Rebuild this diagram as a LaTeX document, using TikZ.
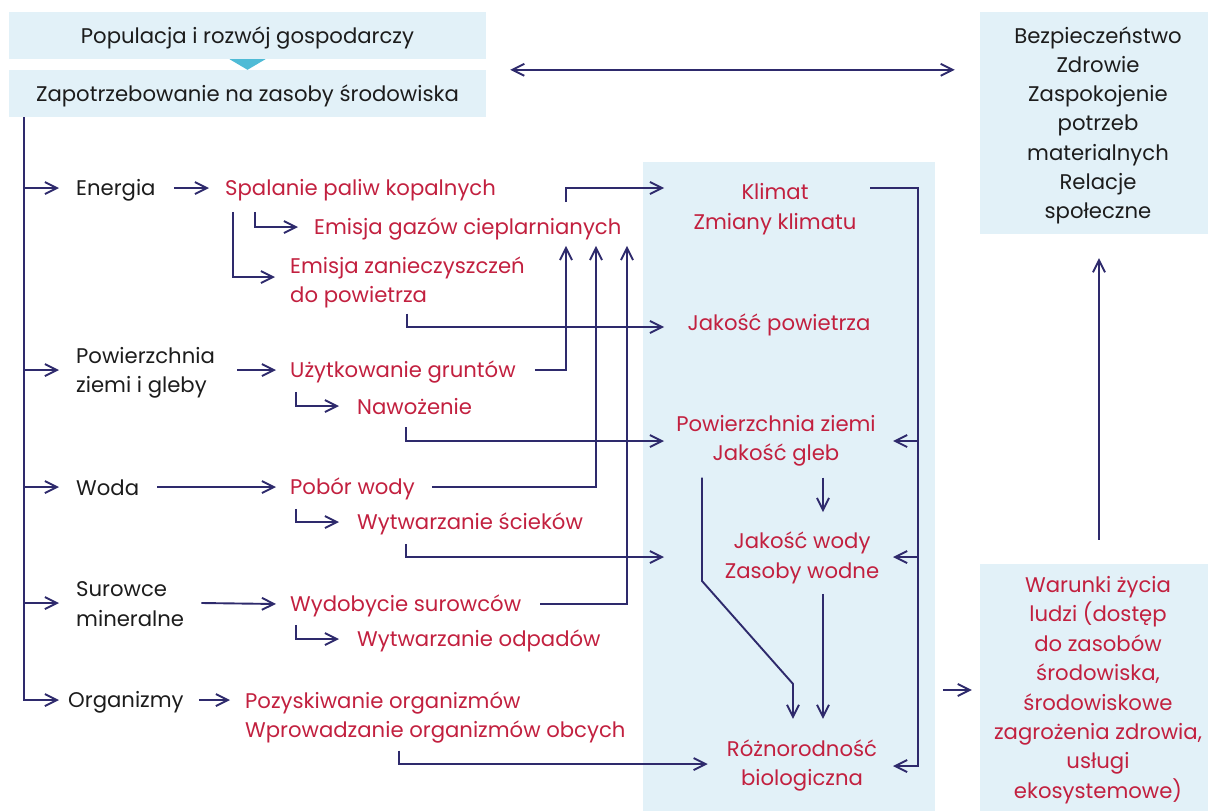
\documentclass[tikz,border=0pt]{standalone}
\usepackage{fontspec}
\setmainfont{Poppins}
\usetikzlibrary{arrows.meta,calc}
\definecolor{panel}{HTML}{E2F1F8}
\definecolor{tri}{HTML}{4FBBD6}
\definecolor{navy}{HTML}{2E2A6C}
\definecolor{redt}{HTML}{C2203F}
\definecolor{blk}{HTML}{1C1C1C}
\newcommand{\sT}{\rule[-0.2em]{0pt}{1.2em}}
\begin{document}
\begin{tikzpicture}[x=1pt,y=-1pt,
  base/.style={font=\fontsize{21.2}{29.3}\selectfont, inner sep=0pt},
  blacktxt/.style={base, text=blk},
  redtxt/.style={base, text=redt},
  boxnode/.style={base, text=blk, fill=panel, align=center},
  line/.style={draw=navy, line width=1.9pt},
  conn/.style={line, -{Straight Barb[length=12pt,width=12pt]}},
  both/.style={line, {Straight Barb[length=12pt,width=12pt]}-{Straight Barb[length=12pt,width=12pt]}}]
\useasboundingbox (0,0) rectangle (1208,811);
\fill[panel] (643,162) rectangle (935,811);

\node[boxnode, minimum width=477pt, minimum height=47pt] (pop) at (247.5,35.5) {\sT Populacja i rozwój gospodarczy};
\node[boxnode, minimum width=477pt, minimum height=47pt] (zap) at (247.5,93.5) {\sT Zapotrzebowanie na zasoby środowiska};
\fill[tri] ($(pop.south)+(-18,0)$) -- ($(pop.south)+(18,0)$) -- (zap.north) -- cycle;

\node[boxnode, minimum width=236pt, minimum height=222pt, font=\fontsize{21.2}{29.2}\selectfont] (bez) at (1098,123) {\sT Bezpieczeństwo\\\sT Zdrowie\\\sT Zaspokojenie\\\sT potrzeb\\\sT materialnych\\\sT Relacje\\\sT społeczne};
\node[boxnode, text=redt, minimum width=236pt, minimum height=247pt, font=\fontsize{21.2}{29.4}\selectfont] (war) at (1098,687.5) {\sT Warunki życia\\\sT ludzi (dostęp\\\sT do zasobów\\\sT środowiska,\\\sT środowiskowe\\\sT zagrożenia zdrowia,\\\sT usługi\\\sT ekosystemowe)};

\node[blacktxt, anchor=west] (en) at (76,188) {\sT Energia};
\node[blacktxt, anchor=west, align=left] (pzg) at (76,370) {\sT Powierzchnia\\\sT ziemi i gleby};
\node[blacktxt, anchor=west] (woda) at (76,487) {\sT Woda};
\node[blacktxt, anchor=west, align=left] (sur) at (76,603) {\sT Surowce\\\sT mineralne};
\node[blacktxt, anchor=west] (org) at (68,700) {\sT Organizmy};

\node[redtxt, anchor=west] (spal) at (225,188) {\sT Spalanie paliw kopalnych};
\node[redtxt, anchor=west] (emg) at (314,227) {\sT Emisja gazów cieplarnianych};
\node[redtxt, anchor=west, align=left] (emz) at (290,280) {\sT Emisja zanieczyszczeń\\\sT do powietrza};
\node[redtxt, anchor=west] (uzy) at (290,370) {\sT Użytkowanie gruntów};
\node[redtxt, anchor=west] (naw) at (357,406) {\sT Nawożenie};
\node[redtxt, anchor=west] (pob) at (290,487) {\sT Pobór wody};
\node[redtxt, anchor=west] (wsc) at (357,522) {\sT Wytwarzanie ścieków};
\node[redtxt, anchor=west] (wyd) at (290,604) {\sT Wydobycie surowców};
\node[redtxt, anchor=west] (wod) at (357,639) {\sT Wytwarzanie odpadów};
\node[redtxt, anchor=west, align=left] (poz) at (245,715) {\sT Pozyskiwanie organizmów\\\sT Wprowadzanie organizmów obcych};

\node[redtxt, align=center] (klim) at (775,206.5) {\sT Klimat\\\sT Zmiany klimatu};
\node[redtxt] (pow) at (779,323) {\sT Jakość powietrza};
\node[redtxt, align=center] (pz) at (776,438) {\sT Powierzchnia ziemi\\\sT Jakość gleb};
\node[redtxt, align=center] (jw) at (802,555.5) {\sT Jakość wody\\\sT Zasoby wodne};
\node[redtxt, align=center] (roz) at (802,763.5) {\sT Różnorodność\\\sT biologiczna};

\coordinate (trunk) at (24,0);
\coordinate (pin) at (664,0);
\coordinate (va) at (566,0);
\coordinate (vb) at (596,0);
\coordinate (vc) at (627,0);
\coordinate (loopx) at (918,0);
\coordinate (lin) at (893,0);
\coordinate (vd) at (823,0);
\coordinate (ve) at (702,0);
\coordinate (vf) at (793,0);

% trunk and branches
\draw[conn] (trunk |- zap.south) |- ($(org.west)+(-9,0)$);
\draw[conn] (trunk |- en.west) -- ($(en.west)+(-17,0)$);
\draw[conn] (trunk |- pzg.west) -- ($(pzg.west)+(-17,0)$);
\draw[conn] (trunk |- woda.west) -- ($(woda.west)+(-17,0)$);
\draw[conn] (trunk |- sur.west) -- ($(sur.west)+(-17,0)$);

% category -> activity
\draw[conn] ($(en.east)+(18,0)$) -- ($(spal.west)+(-16,0)$);
\draw[conn] ($(pzg.east)+(22,0)$) -- ($(uzy.west)+(-14,0)$);
\draw[conn] ($(woda.east)+(18,0)$) -- ($(pob.west)+(-14,0)$);
\draw[conn] ($(sur.east)+(17,0)$) -- ($(wyd.west)+(-14,0)$);
\draw[conn] ($(org.east)+(15,0)$) -- ($(poz.west |- org.east)+(-15,0)$);

% small bent arrows
\draw[conn] ($(spal.south west)+(30,10.3)$) |- ($(emg.west)+(-16,0)$);
\draw[conn] ($(spal.south west)+(8,10.3)$) |- ($(emz.west)+(-15,-3)$);
\draw[conn] ($(uzy.south west)+(6,8.3)$) |- ($(naw.west)+(-18,0)$);
\draw[conn] ($(pob.south west)+(6,8.3)$) |- ($(wsc.west)+(-18,0)$);
\draw[conn] ($(wyd.south west)+(6,7.3)$) |- ($(wod.west)+(-18,0)$);

% into the panel
\draw[conn] ($(emz.south west)+(117,5.3)$) |- ($(pin |- pow.center)+(0,4)$);
\draw[conn] ($(naw.south west)+(49,8.3)$) |- ($(pin |- pz.center)+(0,3)$);
\draw[conn] ($(wsc.south west)+(49,8.3)$) |- ($(pin |- jw.center)+(0,1.5)$);
\draw[conn] ($(poz.south west)+(154,7.3)$) |- ($(roz.west)+(-19,0.5)$);

% risers to greenhouse gases
\draw[conn] ($(uzy.east)+(19,0)$) -| ($(va |- emg.south)+(0,5.3)$);
\draw[conn] ($(pob.east)+(17,0)$) -| ($(vb |- emg.south)+(0,5.3)$);
\draw[conn] ($(wyd.east)+(19,0)$) -| ($(vc |- emg.south)+(0,5.3)$);
\draw[conn] ($(va |- emg.north)+(0,-11.3)$) |- ($(pin |- klim.center)+(0,-18.5)$);

% climate loop
\draw[conn] ($(loopx |- klim.center)+(-48,-18.5)$) -| ($(loopx |- roz.center)+(0,2.5)$) -- ($(lin |- roz.center)+(0,2.5)$);
\draw[conn] ($(loopx |- pz.center)+(0,3)$) -- ($(lin |- pz.center)+(0,3)$);
\draw[conn] ($(loopx |- jw.center)+(0,1.5)$) -- ($(lin |- jw.center)+(0,1.5)$);

% inside the panel
\draw[conn] ($(vd |- pz.south)+(0,11.3)$) -- ($(vd |- jw.north)+(0,-15.3)$);
\draw[conn] ($(vd |- jw.south)+(0,10.3)$) -- ($(vd |- roz.north)+(0,-16.3)$);
\draw[conn] ($(ve |- pz.south)+(0,11.3)$) -- ($(ve |- jw.south)+(0,-2.7)$) -- ($(vf |- roz.north)+(0,-51.3)$) -- ($(vf |- roz.north)+(0,-16.3)$);

% right side
\draw[conn] ($(war.west)+(-37,2.5)$) -- ($(war.west)+(-8,2.5)$);
\draw[conn] ($(war.north)+(1,-24)$) -- ($(bez.south)+(1,24)$);
\draw[both] ($(zap.north east)+(24,0)$) -- ($(bez.west |- zap.north)+(-25,0)$);
\end{tikzpicture}
\end{document}
